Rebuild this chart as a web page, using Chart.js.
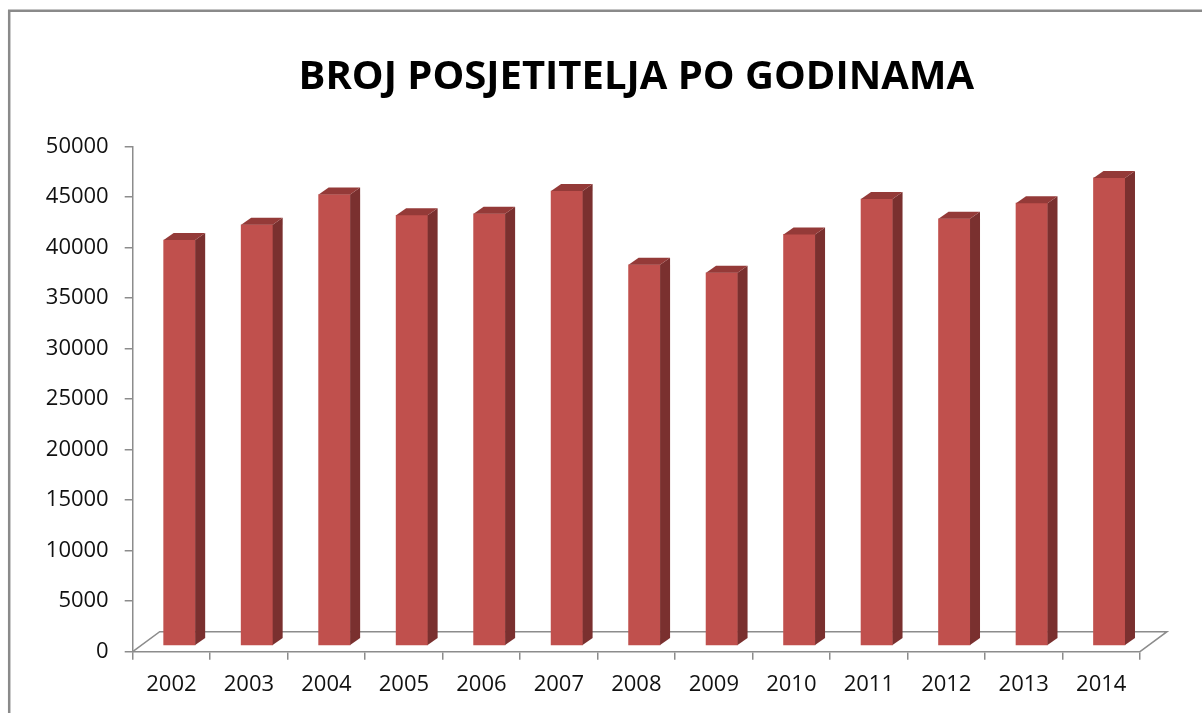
<!DOCTYPE html>
<html>
<head>
<meta charset="utf-8">
<script src="https://cdn.jsdelivr.net/npm/chart.js@4/dist/chart.umd.min.js"></script>
<style>
html,body{margin:0;padding:0;background:#fff;overflow:hidden}
#wrap{width:1202px;height:713px;position:relative}
</style>
</head>
<body>
<div id="wrap"><canvas id="c" width="1202" height="713"></canvas></div>
<script>
// ---- data ----
const chartTitle = 'BROJ POSJETITELJA PO GODINAMA';
const years = ['2002','2003','2004','2005','2006','2007','2008','2009','2010','2011','2012','2013','2014'];
const visitors = [40100, 41600, 44600, 42550, 42700, 44950, 37650, 36850, 40650, 44150, 42200, 43750, 46250];
const yMin = 0;
const yMax = 50000;
const yStep = 5000;

// ---- styles ----
const FRONT = '#C0504D';
const TOP = '#943A38';
const SIDE = '#7A302F';
const AXIS = '#8C8C8C';
const BAR_DX = 10, BAR_DY = 7;        // bar depth projection
const FLOOR_DX = 27, FLOOR_DY = 20;   // floor depth projection
const BAR_SHIFT = 0.103;              // bar front face shift (in category units)
const BAR_LIFT = 663;                 // bar base lift (in value units)

const threeD = {
  id: 'threeD',
  beforeDraw(chart) {
    const ctx = chart.ctx;
    ctx.save();
    ctx.fillStyle = '#fff';
    ctx.fillRect(0, 0, chart.width, chart.height);
    ctx.strokeStyle = '#8A8A8A';
    ctx.lineWidth = 2.5;
    ctx.beginPath();
    ctx.moveTo(9.2, chart.height + 5);
    ctx.lineTo(9.2, 10.8);
    ctx.lineTo(chart.width + 5, 10.8);
    ctx.stroke();
    ctx.restore();
  },
  beforeDatasetsDraw(chart) {
    const a = chart.chartArea, ctx = chart.ctx;
    ctx.save();
    ctx.strokeStyle = AXIS;
    ctx.lineWidth = 1.5;
    ctx.beginPath();
    ctx.moveTo(a.left, a.bottom);
    ctx.lineTo(a.left + FLOOR_DX, a.bottom - FLOOR_DY);
    ctx.lineTo(a.right + FLOOR_DX, a.bottom - FLOOR_DY);
    ctx.lineTo(a.right, a.bottom);
    ctx.stroke();
    ctx.restore();
  },
  afterDatasetsDraw(chart) {
    const ctx = chart.ctx;
    const meta = chart.getDatasetMeta(0);
    ctx.save();
    meta.data.forEach(el => {
      const p = el.getProps(['x', 'y', 'base', 'width'], true);
      const l = p.x - p.width / 2, r = p.x + p.width / 2;
      // side face
      ctx.fillStyle = SIDE;
      ctx.beginPath();
      ctx.moveTo(r, p.y);
      ctx.lineTo(r + BAR_DX, p.y - BAR_DY);
      ctx.lineTo(r + BAR_DX, p.base - BAR_DY);
      ctx.lineTo(r, p.base);
      ctx.closePath();
      ctx.fill();
      // top face
      ctx.fillStyle = TOP;
      ctx.beginPath();
      ctx.moveTo(l, p.y);
      ctx.lineTo(l + BAR_DX, p.y - BAR_DY);
      ctx.lineTo(r + BAR_DX, p.y - BAR_DY);
      ctx.lineTo(r, p.y);
      ctx.closePath();
      ctx.fill();
    });
    ctx.restore();
  }
};

const tickFont = { family: 'Open Sans', size: 22 };

new Chart(document.getElementById('c'), {
  type: 'bar',
  data: {
    labels: years,
    datasets: [{
      data: visitors.map((v, i) => ({ x: i, y: v })),
      xAxisID: 'xBar',
      yAxisID: 'yBar',
      backgroundColor: FRONT,
      borderWidth: 0,
      barThickness: 31.5
    }]
  },
  options: {
    responsive: false,
    animation: false,
    events: [],
    layout: { padding: { left: 20, right: 62, top: 0, bottom: 0 } },
    plugins: {
      legend: { display: false },
      tooltip: { enabled: false },
      title: {
        display: true,
        text: chartTitle,
        fullSize: false,
        color: '#000',
        font: { family: 'Open Sans', weight: 'bold', size: 40, lineHeight: 1.2 },
        padding: { top: 54, bottom: 44.7 }
      }
    },
    scales: {
      x: {
        type: 'category',
        labels: years,
        position: 'bottom',
        offset: true,
        grid: { offset: true, drawOnChartArea: false, drawTicks: true, tickLength: 8, color: AXIS, lineWidth: 1.5 },
        border: { display: true, color: AXIS, width: 1.5 },
        ticks: { font: tickFont, color: '#111', padding: 12, maxRotation: 0, autoSkip: false },
        afterFit(s) { s.height = 61.3; }
      },
      y: {
        type: 'linear',
        position: 'left',
        min: yMin,
        max: yMax,
        grid: { drawOnChartArea: false, drawTicks: true, tickLength: 8, color: AXIS, lineWidth: 1.5 },
        border: { display: true, color: AXIS, width: 1.5 },
        ticks: { stepSize: yStep, font: tickFont, color: '#111', padding: 16, callback: v => String(v) },
        afterFit(s) { s.width = 112.7; }
      },
      xBar: { type: 'linear', display: false, offset: false, min: -0.5 - BAR_SHIFT, max: years.length - 0.5 - BAR_SHIFT },
      yBar: { type: 'linear', display: false, min: yMin - BAR_LIFT, max: yMax - BAR_LIFT }
    }
  },
  plugins: [threeD]
});
</script>
</body>
</html>
